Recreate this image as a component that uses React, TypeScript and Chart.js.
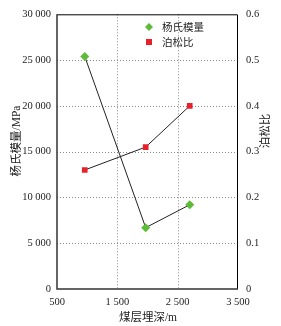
import React, { useEffect, useRef } from "react";
import { Chart, registerables } from "chart.js";

Chart.register(...registerables);

const depths = [960, 1970, 2700];
const youngModulus = [25400, 6700, 9200];
const poissonRatio = [0.26, 0.31, 0.4];
const xTicks = [500, 1500, 2500, 3500];
const seriesNames = ["杨氏模量", "泊松比"];
const axisTitles = { x: "煤层埋深/m", yLeft: "杨氏模量/MPa", yRight: "泊松比" };

const FONT = '"Liberation Serif", "Noto Sans CJK SC", serif';

function fmt(v: number): string {
  const s = String(Math.round(v));
  return s.replace(/\B(?=(\d{3})+(?!\d))/g, " ");
}

const overlay = {
  id: "overlay",
  beforeDatasetsDraw(chart: any) {
    const ctx = chart.ctx;
    const a = chart.chartArea;
    ctx.save();
    ctx.strokeStyle = "#888";
    ctx.lineWidth = 1;
    ctx.setLineDash([1, 2]);
    chart.scales.x.ticks.forEach((t: any) => {
      const px = Math.round(chart.scales.x.getPixelForValue(t.value)) + 0.5;
      if (px <= a.left + 2 || px >= a.right - 2) return;
      ctx.beginPath();
      ctx.moveTo(px, a.top);
      ctx.lineTo(px, a.bottom);
      ctx.stroke();
    });
    chart.scales.y.ticks.forEach((t: any) => {
      const py = Math.round(chart.scales.y.getPixelForValue(t.value)) + 0.5;
      if (py <= a.top + 2 || py >= a.bottom - 2) return;
      ctx.beginPath();
      ctx.moveTo(a.left, py);
      ctx.lineTo(a.right, py);
      ctx.stroke();
    });
    ctx.restore();
  },
  afterDraw(chart: any) {
    const ctx = chart.ctx;
    const a = chart.chartArea;
    ctx.save();
    // frame
    ctx.strokeStyle = "#000";
    ctx.lineWidth = 1;
    ctx.beginPath();
    ctx.moveTo(a.left, a.top + 0.5);
    ctx.lineTo(a.right - 0.5, a.top + 0.5);
    ctx.lineTo(a.right - 0.5, a.bottom);
    ctx.stroke();
    ctx.strokeStyle = "#333";
    ctx.lineWidth = 1.5;
    ctx.beginPath();
    ctx.moveTo(a.left, a.top);
    ctx.lineTo(a.left, a.bottom);
    ctx.lineTo(a.right, a.bottom);
    ctx.stroke();

    // legend
    ctx.font = "10.5px " + FONT;
    ctx.textBaseline = "middle";
    ctx.textAlign = "left";
    const lx = 149;
    const ly1 = 27;
    const ly2 = 42;
    ctx.fillStyle = "#5dbb3a";
    ctx.beginPath();
    ctx.moveTo(lx, ly1 - 4);
    ctx.lineTo(lx + 4, ly1);
    ctx.lineTo(lx, ly1 + 4);
    ctx.lineTo(lx - 4, ly1);
    ctx.closePath();
    ctx.fill();
    ctx.fillStyle = "#e8202a";
    ctx.fillRect(lx - 3, ly2 - 3, 6, 6);
    ctx.fillStyle = "#222";
    ctx.fillText(seriesNames[0], 162, ly1 + 1);
    ctx.fillText(seriesNames[1], 162, ly2 + 1);

    // axis titles
    ctx.font = "11.5px " + FONT;
    ctx.textAlign = "center";
    ctx.fillText(axisTitles.x, 148, 318);
    ctx.save();
    ctx.translate(17, 141);
    ctx.rotate(-Math.PI / 2);
    ctx.fillText(axisTitles.yLeft, 0, 0);
    ctx.restore();
    ctx.save();
    ctx.translate(266, 131);
    ctx.rotate(-Math.PI / 2);
    ctx.fillText(axisTitles.yRight, 0, 0);
    ctx.restore();
    ctx.restore();
  },
};

export default function App() {
  const ref = useRef<HTMLCanvasElement>(null);
  useEffect(() => {
    if (!ref.current) return;
    const chart = new Chart(ref.current, {
      type: "scatter",
      data: {
        datasets: [
          {
            label: seriesNames[0],
            data: depths.map((d, i) => ({ x: d, y: youngModulus[i] })),
            yAxisID: "y",
            showLine: true,
            borderColor: "#222",
            borderWidth: 1,
            pointStyle: "rectRot",
            pointRadius: 4.5,
            pointBackgroundColor: "#5dbb3a",
            pointBorderColor: "#5dbb3a",
            pointBorderWidth: 0,
          },
          {
            label: seriesNames[1],
            data: depths.map((d, i) => ({ x: d, y: poissonRatio[i] })),
            yAxisID: "y1",
            showLine: true,
            borderColor: "#222",
            borderWidth: 1,
            pointStyle: "rect",
            pointRadius: 4,
            pointBackgroundColor: "#e8202a",
            pointBorderColor: "#e8202a",
            pointBorderWidth: 0,
          },
        ],
      },
      options: {
        animation: false,
        responsive: false,
        layout: { padding: { top: 12, left: 0, right: 0, bottom: 0 } },
        plugins: { legend: { display: false }, tooltip: { enabled: false } },
        scales: {
          x: {
            type: "linear",
            min: 500,
            max: 3500,
            afterBuildTicks: (s: any) => {
              s.ticks = xTicks.map((v) => ({ value: v }));
            },
            afterFit: (s: any) => {
              s.height = 37;
            },
            ticks: {
              padding: 7,
              maxRotation: 0,
              color: "#222",
              font: { family: FONT, size: 10.5 },
              callback: (v: any) => fmt(Number(v)),
            },
            grid: { display: false, drawTicks: false },
            border: { display: false },
          },
          y: {
            position: "left",
            min: 0,
            max: 30000,
            afterFit: (s: any) => {
              s.width = 57;
            },
            ticks: {
              stepSize: 5000,
              padding: 6,
              color: "#222",
              font: { family: FONT, size: 10.5 },
              callback: (v: any) => fmt(Number(v)),
            },
            grid: { display: false, drawTicks: false },
            border: { display: false },
          },
          y1: {
            position: "right",
            min: 0,
            max: 0.6,
            afterFit: (s: any) => {
              s.width = 43;
            },
            ticks: {
              stepSize: 0.1,
              padding: 8,
              color: "#222",
              font: { family: FONT, size: 10.5 },
              callback: (v: any) => String(Math.round(Number(v) * 10) / 10),
            },
            grid: { display: false, drawTicks: false },
            border: { display: false },
          },
        },
      },
      plugins: [overlay],
    } as any);
    return () => chart.destroy();
  }, []);
  return (
    <div style={{ position: "fixed", left: 0, top: 0, width: 281, height: 326, background: "#fff" }}>
      <canvas ref={ref} width={281} height={326} style={{ width: 281, height: 326 }} />
    </div>
  );
}
